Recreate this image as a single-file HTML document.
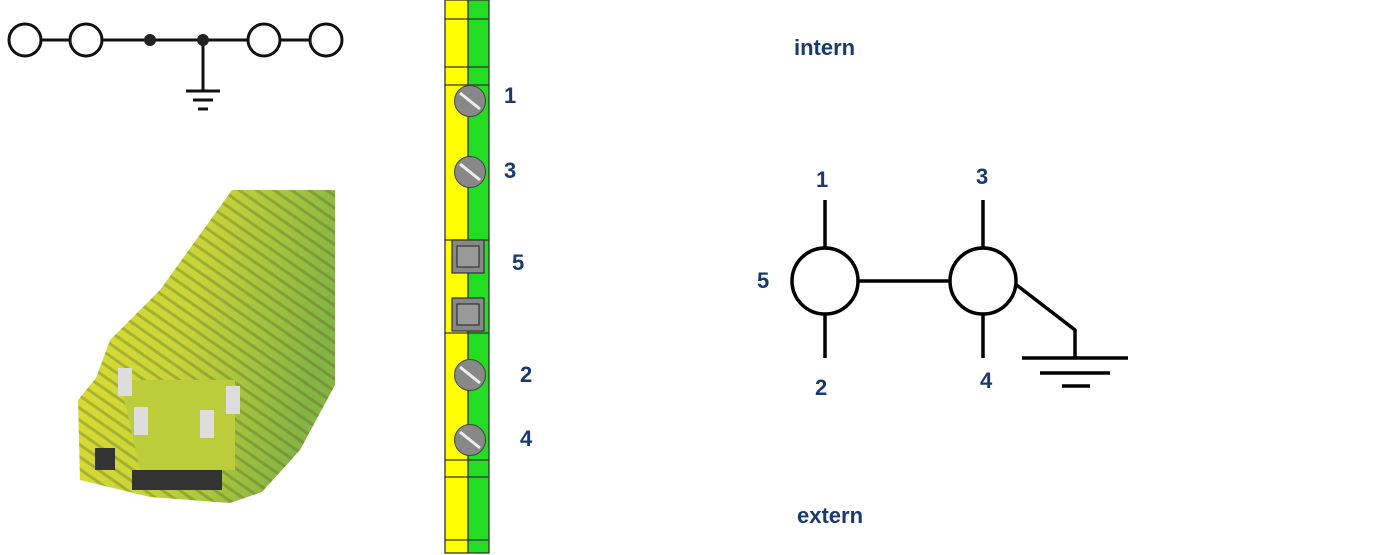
<!DOCTYPE html>
<html><head><meta charset="utf-8"><style>
html,body{margin:0;padding:0;background:#fff;width:1400px;height:555px;overflow:hidden}
svg{display:block}
text{font-family:"Liberation Sans",Arial,sans-serif;font-weight:bold;fill:#183a70}
</style></head><body>
<svg width="1400" height="555" viewBox="0 0 1400 555" xmlns="http://www.w3.org/2000/svg">
<defs>
<linearGradient id="g" x1="0" y1="0" x2="1" y2="0.3">
<stop offset="0" stop-color="#e0e030"/><stop offset="0.5" stop-color="#c8d43a"/><stop offset="1" stop-color="#86b444"/>
</linearGradient>
<pattern id="st" width="10" height="10" patternUnits="userSpaceOnUse" patternTransform="rotate(-55)">
<rect width="10" height="10" fill="none"/><rect width="3" height="10" fill="#4a5a18" opacity="0.3"/>
</pattern>
</defs>
<g stroke="#111" stroke-width="3" fill="#fff">
<line x1="41" y1="40" x2="310" y2="40"/>
<line x1="203" y1="40" x2="203" y2="90"/>
<line x1="186" y1="91" x2="220" y2="91"/>
<line x1="193" y1="100" x2="213" y2="100"/>
<line x1="198" y1="109" x2="208" y2="109"/>
<circle cx="25" cy="40" r="16"/><circle cx="86" cy="40" r="16"/>
<circle cx="264" cy="40" r="16"/><circle cx="326" cy="40" r="16"/>
<circle cx="150" cy="40" r="6" fill="#222" stroke="none"/>
<circle cx="203" cy="40" r="6" fill="#222" stroke="none"/>
</g>
<g>
<polygon points="232,190 335,190 335,385 300,450 262,492 230,503 150,497 80,480 78,400 96,378 110,340 160,290" fill="url(#g)"/>
<polygon points="232,190 335,190 335,385 300,450 262,492 230,503 150,497 80,480 78,400 96,378 110,340 160,290" fill="url(#st)"/>
<polygon points="120,380 235,380 235,470 140,470" fill="#bccd3c"/>
<rect x="118" y="368" width="14" height="28" fill="#ddd"/>
<rect x="134" y="407" width="14" height="28" fill="#ddd"/>
<rect x="200" y="410" width="14" height="28" fill="#ddd"/>
<rect x="226" y="386" width="14" height="28" fill="#ddd"/>
<rect x="132" y="470" width="90" height="20" fill="#333"/>
<rect x="95" y="448" width="20" height="22" fill="#333"/>
</g>
<rect x="445" y="0" width="23" height="553" fill="#ffff00"/>
<rect x="468" y="0" width="21" height="553" fill="#22dd22"/>
<g stroke="#333" stroke-width="1.3" fill="none">
<rect x="445" y="0" width="44" height="553"/>
<line x1="468" y1="0" x2="468" y2="553"/>
<line x1="445" y1="19" x2="489" y2="19"/>
<line x1="445" y1="67" x2="489" y2="67"/>
<line x1="445" y1="85" x2="489" y2="85"/>
<line x1="445" y1="240" x2="489" y2="240"/>
<line x1="445" y1="333" x2="489" y2="333"/>
<line x1="445" y1="460" x2="489" y2="460"/>
<line x1="445" y1="477" x2="489" y2="477"/>
<line x1="445" y1="540" x2="489" y2="540"/>
</g>
<g stroke="#333" stroke-width="1.2">
<rect x="452" y="240" width="32" height="33" fill="#888"/>
<rect x="457" y="246" width="22" height="21" fill="#999"/>
<rect x="452" y="298" width="32" height="33" fill="#888"/>
<rect x="457" y="304" width="22" height="21" fill="#999"/>
</g>
<g>
<g transform="translate(470,101)"><circle r="15.5" fill="#888" stroke="#444"/><line x1="-10" y1="-8" x2="10" y2="8" stroke="#eee" stroke-width="3"/></g>
<g transform="translate(470,172)"><circle r="15.5" fill="#888" stroke="#444"/><line x1="-10" y1="-8" x2="10" y2="8" stroke="#eee" stroke-width="3"/></g>
<g transform="translate(470,375)"><circle r="15.5" fill="#888" stroke="#444"/><line x1="-10" y1="-8" x2="10" y2="8" stroke="#eee" stroke-width="3"/></g>
<g transform="translate(470,440)"><circle r="15.5" fill="#888" stroke="#444"/><line x1="-10" y1="-8" x2="10" y2="8" stroke="#eee" stroke-width="3"/></g>
</g>
<g font-size="22">
<text x="504" y="103">1</text><text x="504" y="178">3</text>
<text x="512" y="270">5</text><text x="520" y="382">2</text><text x="520" y="446">4</text>
</g>
<g stroke="#000" stroke-width="3.5" fill="#fff">
<line x1="825" y1="200" x2="825" y2="248"/>
<line x1="825" y1="314" x2="825" y2="358"/>
<line x1="983" y1="200" x2="983" y2="248"/>
<line x1="983" y1="314" x2="983" y2="358"/>
<line x1="858" y1="281" x2="950" y2="281"/>
<polyline points="1014,283 1075,330 1075,358" fill="none"/>
<line x1="1022" y1="358" x2="1128" y2="358"/>
<line x1="1040" y1="373" x2="1110" y2="373"/>
<line x1="1062" y1="386" x2="1090" y2="386"/>
<circle cx="825" cy="281" r="33"/>
<circle cx="983" cy="281" r="33"/>
</g>
<g font-size="22">
<text x="816" y="187">1</text><text x="976" y="184">3</text>
<text x="757" y="288">5</text><text x="815" y="395">2</text><text x="980" y="388">4</text>
<text x="794" y="55">intern</text><text x="797" y="523">extern</text>
</g>
</svg>
</body></html>
